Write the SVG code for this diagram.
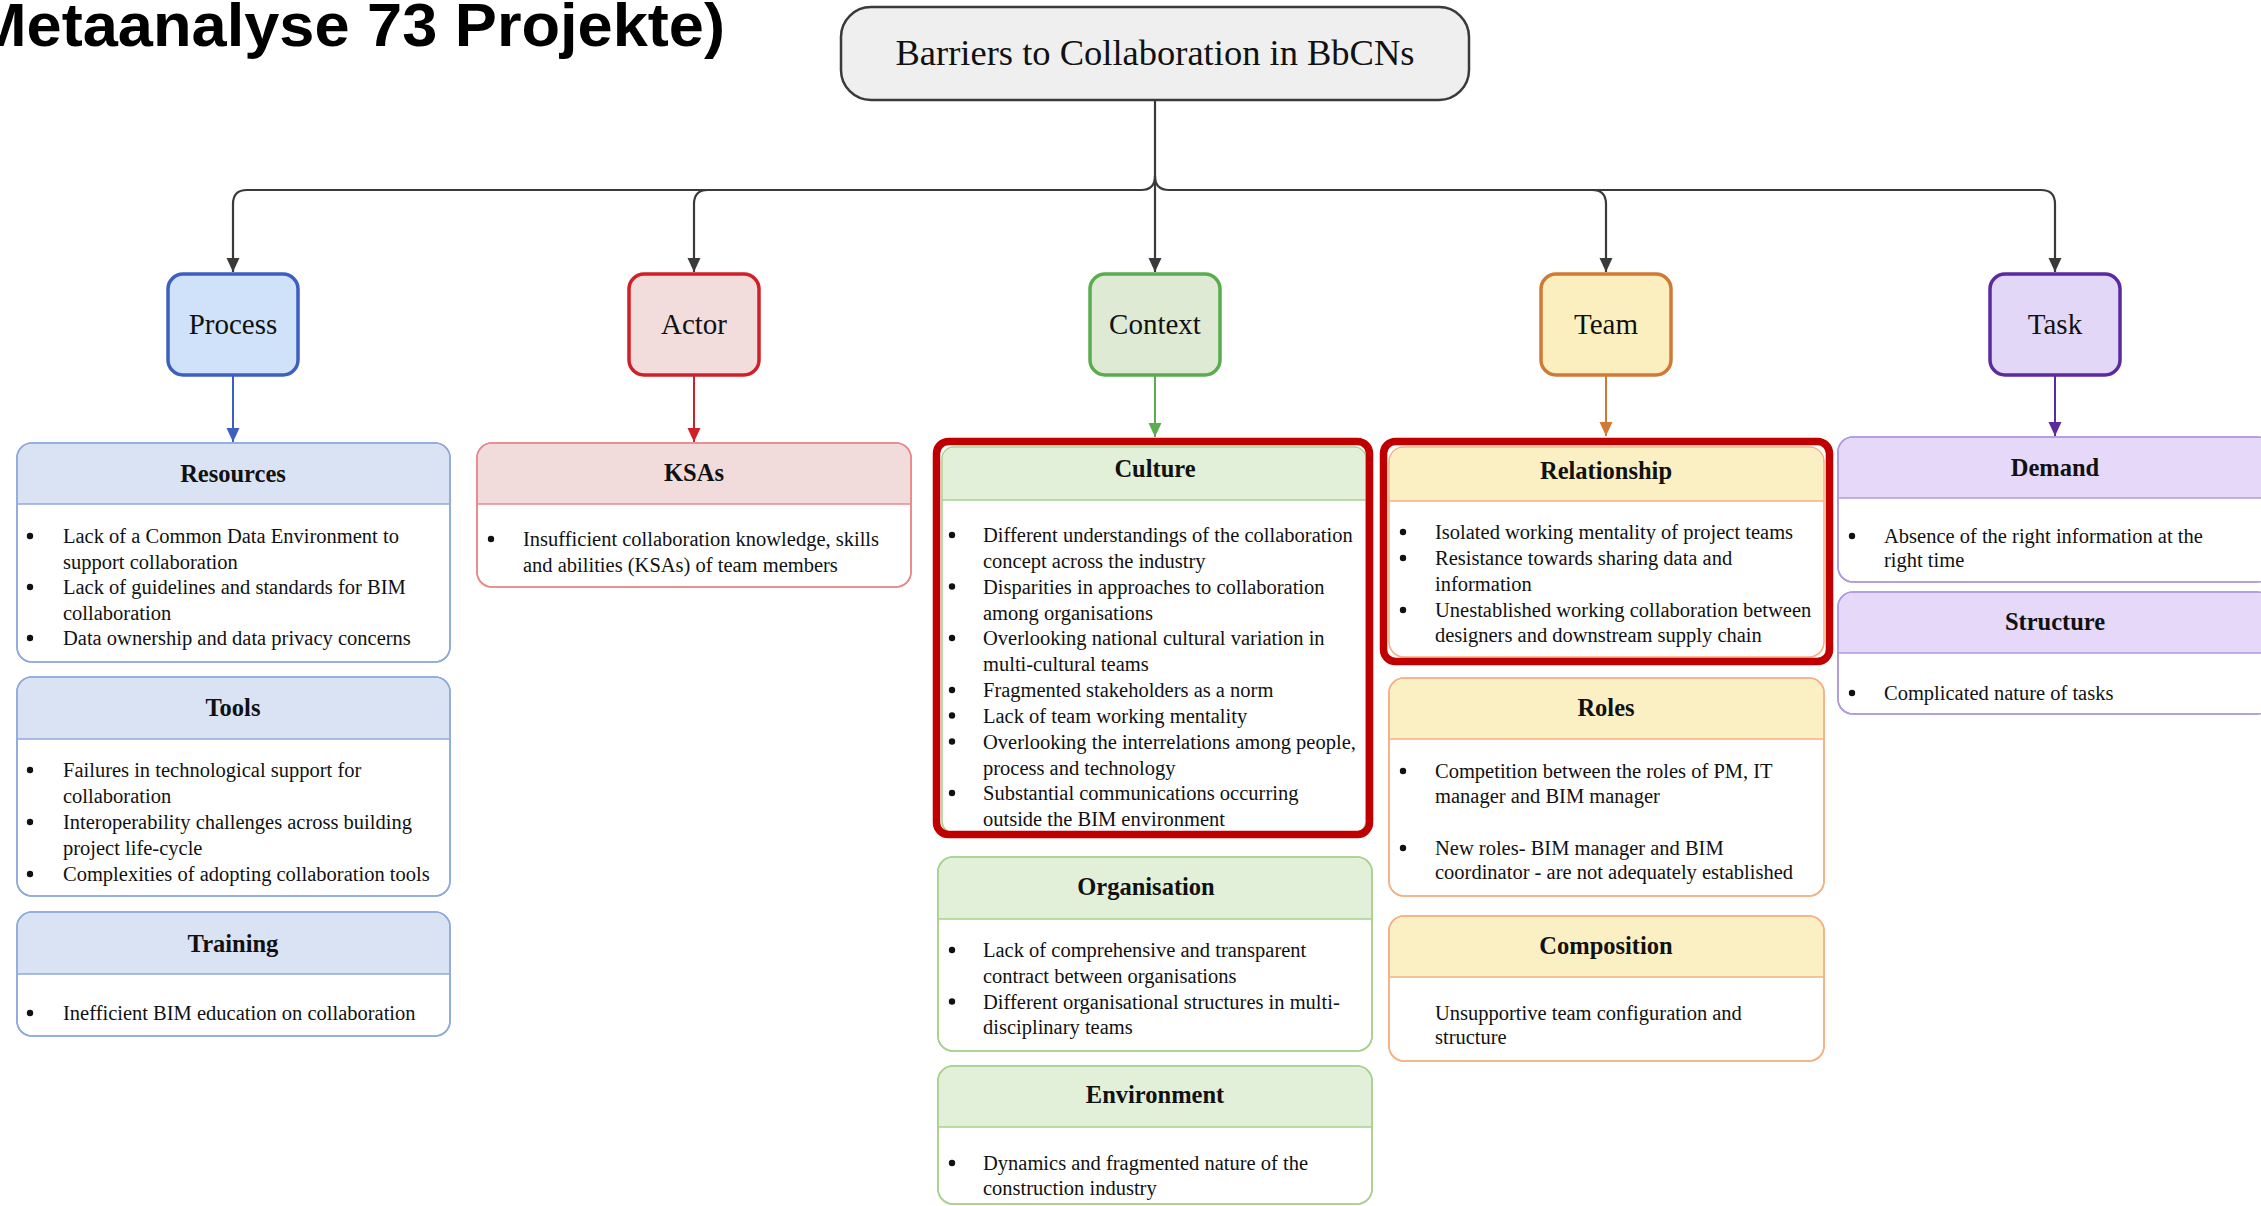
<svg xmlns="http://www.w3.org/2000/svg" width="2261" height="1206" viewBox="0 0 2261 1206">
<defs>
<style>
.t{font-family:"Liberation Serif","Times New Roman",serif;fill:#111}
.b{font-size:20.5px}
.h{font-size:24.5px;font-weight:bold;text-anchor:middle}
.n{font-size:29px;text-anchor:middle}
.body{fill:#fff;stroke-width:1.6}
.div{stroke-width:1.6}
.hl{fill:none;stroke:#c00000;stroke-width:7.5}
.con{fill:none;stroke:#3a3a3a;stroke-width:2.2}
.blue{stroke:#8faadc}.blueh{fill:#dae3f3}
.red{stroke:#e8898b}.redh{fill:#f2dcdb}
.grn{stroke:#a9d18e}.grnh{fill:#e2efd9}
.org{stroke:#f4b183}.orgh{fill:#fbf0c4}
.pur{stroke:#b09ae0}.purh{fill:#e5d8f8}
</style>
<marker id="aK" markerUnits="userSpaceOnUse" markerWidth="14" markerHeight="14" refX="14" refY="6.5" orient="auto"><path d="M0,0 L14,6.5 L0,13 z" fill="#3a3a3a"/></marker>
<marker id="aB" markerUnits="userSpaceOnUse" markerWidth="14" markerHeight="14" refX="14" refY="6.5" orient="auto"><path d="M0,0 L14,6.5 L0,13 z" fill="#3d5fc0"/></marker>
<marker id="aR" markerUnits="userSpaceOnUse" markerWidth="14" markerHeight="14" refX="14" refY="6.5" orient="auto"><path d="M0,0 L14,6.5 L0,13 z" fill="#d0202a"/></marker>
<marker id="aG" markerUnits="userSpaceOnUse" markerWidth="14" markerHeight="14" refX="14" refY="6.5" orient="auto"><path d="M0,0 L14,6.5 L0,13 z" fill="#5aad4e"/></marker>
<marker id="aO" markerUnits="userSpaceOnUse" markerWidth="14" markerHeight="14" refX="14" refY="6.5" orient="auto"><path d="M0,0 L14,6.5 L0,13 z" fill="#d07a35"/></marker>
<marker id="aP" markerUnits="userSpaceOnUse" markerWidth="14" markerHeight="14" refX="14" refY="6.5" orient="auto"><path d="M0,0 L14,6.5 L0,13 z" fill="#5a2a9e"/></marker>
</defs>
<rect width="2261" height="1206" fill="#fff"/>

<text x="-26" y="46" font-family="'Liberation Sans',Arial,sans-serif" font-weight="bold" font-size="62" textLength="751" lengthAdjust="spacingAndGlyphs" fill="#000">Metaanalyse 73 Projekte)</text>

<g id="connectors">
<path class="con" d="M1155,100 V272" marker-end="url(#aK)"/>
<path class="con" d="M1155,176 Q1155,190 1141,190 H247 Q233,190 233,204 V272" marker-end="url(#aK)"/>
<path class="con" d="M708,190 Q694,190 694,204 V272" marker-end="url(#aK)"/>
<path class="con" d="M1155,176 Q1155,190 1169,190 H2041 Q2055,190 2055,204 V272" marker-end="url(#aK)"/>
<path class="con" d="M1592,190 Q1606,190 1606,204 V272" marker-end="url(#aK)"/>
<path d="M233,376 V442" stroke="#3d5fc0" stroke-width="2" marker-end="url(#aB)"/>
<path d="M694,376 V442" stroke="#d0202a" stroke-width="2" marker-end="url(#aR)"/>
<path d="M1155,376 V437" stroke="#5aad4e" stroke-width="2" marker-end="url(#aG)"/>
<path d="M1606,376 V436" stroke="#d07a35" stroke-width="2" marker-end="url(#aO)"/>
<path d="M2055,376 V436" stroke="#5a2a9e" stroke-width="2" marker-end="url(#aP)"/>
</g>

<g id="root">
<rect x="841" y="7" width="628" height="93" rx="30" fill="#efefef" stroke="#3a3a3a" stroke-width="2.5"/>
<text class="t" x="1155" y="65" font-size="36.5" text-anchor="middle">Barriers to Collaboration in BbCNs</text>
</g>

<g id="process"><rect x="168" y="274" width="130" height="101" rx="15" fill="#cfe2f9" stroke="#3d5fc0" stroke-width="3.5"/><text class="t n" x="233" y="334">Process</text></g>
<g id="actor"><rect x="629" y="274" width="130" height="101" rx="15" fill="#f2dcdc" stroke="#d0202a" stroke-width="3.5"/><text class="t n" x="694" y="334">Actor</text></g>
<g id="context"><rect x="1090" y="274" width="130" height="101" rx="15" fill="#deead4" stroke="#5aad4e" stroke-width="3.5"/><text class="t n" x="1155" y="334">Context</text></g>
<g id="team"><rect x="1541" y="274" width="130" height="101" rx="15" fill="#fbefc0" stroke="#d07a35" stroke-width="3.5"/><text class="t n" x="1606" y="334">Team</text></g>
<g id="task"><rect x="1990" y="274" width="130" height="101" rx="15" fill="#e3d7f8" stroke="#5a2a9e" stroke-width="3.5"/><text class="t n" x="2055" y="334">Task</text></g>

<g id="resources">
<rect class="body blue" x="17" y="443" width="433" height="219" rx="15"/>
<path class="blueh" d="M18,504 V458 A14,14 0 0 1 32,444 H435 A14,14 0 0 1 449,458 V504 Z"/>
<path class="div blue" d="M17,504 H450"/>
<rect fill="none" class="blue" stroke-width="1.6" x="17" y="443" width="433" height="219" rx="15"/>
<text class="t h" x="233" y="482">Resources</text>
<g fill="#111"><circle cx="30" cy="536" r="3.2"/><circle cx="30" cy="587" r="3.2"/><circle cx="30" cy="638" r="3.2"/></g>
<text class="t b"><tspan x="63" y="543">Lack of a Common Data Environment to</tspan><tspan x="63" y="568.5">support collaboration</tspan><tspan x="63" y="594">Lack of guidelines and standards for BIM</tspan><tspan x="63" y="619.5">collaboration</tspan><tspan x="63" y="645">Data ownership and data privacy concerns</tspan></text>
</g>

<g id="tools">
<rect class="body blue" x="17" y="677" width="433" height="219" rx="15"/>
<path class="blueh" d="M18,739 V692 A14,14 0 0 1 32,678 H435 A14,14 0 0 1 449,692 V739 Z"/>
<path class="div blue" d="M17,739 H450"/>
<rect fill="none" class="blue" stroke-width="1.6" x="17" y="677" width="433" height="219" rx="15"/>
<text class="t h" x="233" y="716">Tools</text>
<g fill="#111"><circle cx="30" cy="770" r="3.2"/><circle cx="30" cy="822" r="3.2"/><circle cx="30" cy="874" r="3.2"/></g>
<text class="t b"><tspan x="63" y="777">Failures in technological support for</tspan><tspan x="63" y="803">collaboration</tspan><tspan x="63" y="829">Interoperability challenges across building</tspan><tspan x="63" y="855">project life-cycle</tspan><tspan x="63" y="881">Complexities of adopting collaboration tools</tspan></text>
</g>

<g id="training">
<rect class="body blue" x="17" y="912" width="433" height="124" rx="15"/>
<path class="blueh" d="M18,974 V927 A14,14 0 0 1 32,913 H435 A14,14 0 0 1 449,927 V974 Z"/>
<path class="div blue" d="M17,974 H450"/>
<rect fill="none" class="blue" stroke-width="1.6" x="17" y="912" width="433" height="124" rx="15"/>
<text class="t h" x="233" y="952">Training</text>
<circle cx="30" cy="1013" r="3.2" fill="#111"/>
<text class="t b" x="63" y="1020">Inefficient BIM education on collaboration</text>
</g>

<g id="ksas">
<rect class="body red" x="477" y="443" width="434" height="144" rx="15"/>
<path class="redh" d="M478,504 V458 A14,14 0 0 1 492,444 H896 A14,14 0 0 1 910,458 V504 Z"/>
<path class="div red" d="M477,504 H911"/>
<rect fill="none" class="red" stroke-width="1.6" x="477" y="443" width="434" height="144" rx="15"/>
<text class="t h" x="694" y="481">KSAs</text>
<circle cx="491" cy="539" r="3.2" fill="#111"/>
<text class="t b"><tspan x="523" y="546">Insufficient collaboration knowledge, skills</tspan><tspan x="523" y="572">and abilities (KSAs) of team members</tspan></text>
</g>

<g id="culture">
<rect class="body grn" x="942" y="447" width="424" height="386" rx="12"/>
<path class="grnh" d="M943,500 V459 A11,11 0 0 1 954,448 H1354 A11,11 0 0 1 1365,459 V500 Z"/>
<path class="div grn" d="M942,500 H1366"/>
<text class="t h" x="1155" y="477">Culture</text>
<g fill="#111"><circle cx="952" cy="535" r="3.2"/><circle cx="952" cy="586.5" r="3.2"/><circle cx="952" cy="638" r="3.2"/><circle cx="952" cy="690" r="3.2"/><circle cx="952" cy="715.5" r="3.2"/><circle cx="952" cy="741.5" r="3.2"/><circle cx="952" cy="793" r="3.2"/></g>
<text class="t b"><tspan x="983" y="542">Different understandings of the collaboration</tspan><tspan x="983" y="568">concept across the industry</tspan><tspan x="983" y="593.5">Disparities in approaches to collaboration</tspan><tspan x="983" y="619.5">among organisations</tspan><tspan x="983" y="645">Overlooking national cultural variation in</tspan><tspan x="983" y="671">multi-cultural teams</tspan><tspan x="983" y="697">Fragmented stakeholders as a norm</tspan><tspan x="983" y="722.5">Lack of team working mentality</tspan><tspan x="983" y="748.5">Overlooking the interrelations among people,</tspan><tspan x="983" y="774.5">process and technology</tspan><tspan x="983" y="800">Substantial communications occurring</tspan><tspan x="983" y="826">outside the BIM environment</tspan></text>
<rect class="hl" x="936.5" y="441.5" width="433" height="393" rx="12"/>
</g>

<g id="organisation">
<rect class="body grn" x="938" y="857" width="434" height="194" rx="15"/>
<path class="grnh" d="M939,919 V872 A14,14 0 0 1 953,858 H1357 A14,14 0 0 1 1371,872 V919 Z"/>
<path class="div grn" d="M938,919 H1372"/>
<rect fill="none" class="grn" stroke-width="1.6" x="938" y="857" width="434" height="194" rx="15"/>
<text class="t h" x="1146" y="895">Organisation</text>
<g fill="#111"><circle cx="952" cy="950" r="3.2"/><circle cx="952" cy="1001.5" r="3.2"/></g>
<text class="t b"><tspan x="983" y="957">Lack of comprehensive and transparent</tspan><tspan x="983" y="983">contract between organisations</tspan><tspan x="983" y="1008.5">Different organisational structures in multi-</tspan><tspan x="983" y="1034">disciplinary teams</tspan></text>
</g>

<g id="environment">
<rect class="body grn" x="938" y="1066" width="434" height="138" rx="15"/>
<path class="grnh" d="M939,1127 V1081 A14,14 0 0 1 953,1067 H1357 A14,14 0 0 1 1371,1081 V1127 Z"/>
<path class="div grn" d="M938,1127 H1372"/>
<rect fill="none" class="grn" stroke-width="1.6" x="938" y="1066" width="434" height="138" rx="15"/>
<text class="t h" x="1155" y="1103">Environment</text>
<circle cx="952" cy="1163" r="3.2" fill="#111"/>
<text class="t b"><tspan x="983" y="1170">Dynamics and fragmented nature of the</tspan><tspan x="983" y="1195">construction industry</tspan></text>
</g>

<g id="relationship">
<rect class="body org" x="1389" y="447" width="435" height="210" rx="15"/>
<path class="orgh" d="M1390,501 V461 A13,13 0 0 1 1403,448 H1810 A13,13 0 0 1 1823,461 V501 Z"/>
<path class="div org" d="M1389,501 H1824"/>
<text class="t h" x="1606" y="479">Relationship</text>
<g fill="#111"><circle cx="1403" cy="532" r="3.2"/><circle cx="1403" cy="558" r="3.2"/><circle cx="1403" cy="610" r="3.2"/></g>
<text class="t b"><tspan x="1435" y="539">Isolated working mentality of project teams</tspan><tspan x="1435" y="565">Resistance towards sharing data and</tspan><tspan x="1435" y="591">information</tspan><tspan x="1435" y="617">Unestablished working collaboration between</tspan><tspan x="1435" y="642">designers and downstream supply chain</tspan></text>
<rect class="hl" x="1383.5" y="441.5" width="446" height="220" rx="12"/>
</g>

<g id="roles">
<rect class="body org" x="1389" y="678" width="435" height="218" rx="15"/>
<path class="orgh" d="M1390,739 V693 A14,14 0 0 1 1404,679 H1809 A14,14 0 0 1 1823,693 V739 Z"/>
<path class="div org" d="M1389,739 H1824"/>
<rect fill="none" class="org" stroke-width="1.6" x="1389" y="678" width="435" height="218" rx="15"/>
<text class="t h" x="1606" y="716">Roles</text>
<g fill="#111"><circle cx="1403" cy="771" r="3.2"/><circle cx="1403" cy="848" r="3.2"/></g>
<text class="t b"><tspan x="1435" y="778">Competition between the roles of PM, IT</tspan><tspan x="1435" y="803">manager and BIM manager</tspan><tspan x="1435" y="855">New roles- BIM manager and BIM</tspan><tspan x="1435" y="879">coordinator - are not adequately established</tspan></text>
</g>

<g id="composition">
<rect class="body org" x="1389" y="916" width="435" height="145" rx="15"/>
<path class="orgh" d="M1390,977 V931 A14,14 0 0 1 1404,917 H1809 A14,14 0 0 1 1823,931 V977 Z"/>
<path class="div org" d="M1389,977 H1824"/>
<rect fill="none" class="org" stroke-width="1.6" x="1389" y="916" width="435" height="145" rx="15"/>
<text class="t h" x="1606" y="954">Composition</text>
<text class="t b"><tspan x="1435" y="1020">Unsupportive team configuration and</tspan><tspan x="1435" y="1044">structure</tspan></text>
</g>

<g id="demand">
<rect class="body pur" x="1838" y="437" width="434" height="145" rx="15"/>
<path class="purh" d="M1839,498 V452 A14,14 0 0 1 1853,438 H2257 A14,14 0 0 1 2271,452 V498 Z"/>
<path class="div pur" d="M1838,498 H2272"/>
<rect fill="none" class="pur" stroke-width="1.6" x="1838" y="437" width="434" height="145" rx="15"/>
<text class="t h" x="2055" y="476">Demand</text>
<circle cx="1852" cy="536" r="3.2" fill="#111"/>
<text class="t b"><tspan x="1884" y="543">Absence of the right information at the</tspan><tspan x="1884" y="567">right time</tspan></text>
</g>

<g id="structure">
<rect class="body pur" x="1838" y="592" width="434" height="122" rx="15"/>
<path class="purh" d="M1839,653 V607 A14,14 0 0 1 1853,593 H2257 A14,14 0 0 1 2271,607 V653 Z"/>
<path class="div pur" d="M1838,653 H2272"/>
<rect fill="none" class="pur" stroke-width="1.6" x="1838" y="592" width="434" height="122" rx="15"/>
<text class="t h" x="2055" y="630">Structure</text>
<circle cx="1852" cy="693" r="3.2" fill="#111"/>
<text class="t b" x="1884" y="700">Complicated nature of tasks</text>
</g>
</svg>
